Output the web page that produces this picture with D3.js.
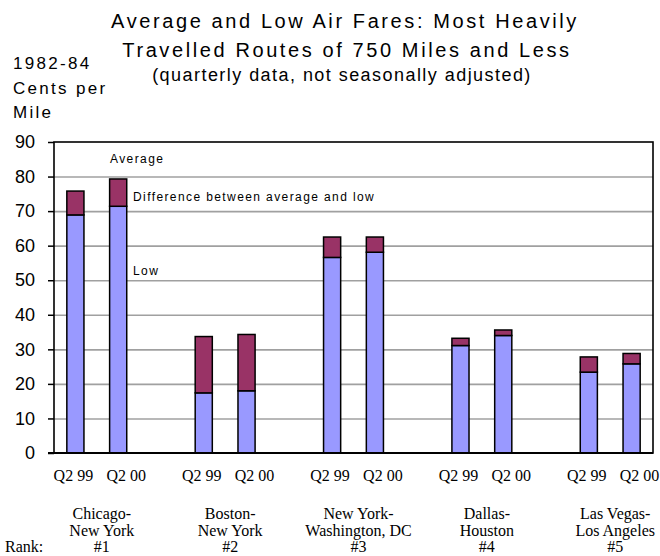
<!DOCTYPE html>
<html>
<head>
<meta charset="utf-8">
<script src="https://cdn.jsdelivr.net/npm/d3@7"></script>
<style>
  body { margin: 0; background: #fff; }
  svg { display: block; }
</style>
</head>
<body>
<script>
// ---- data ----
const routeLine1 = ["Chicago-", "Boston-", "New York-", "Dallas-", "Las Vegas-"];
const routeLine2 = ["New York", "New York", "Washington, DC", "Houston", "Los Angeles"];
const ranks = ["#1", "#2", "#3", "#4", "#5"];
const quarters = ["Q2 99", "Q2 00"];
const lowQ299 = [68.9, 17.4, 56.6, 31.1, 23.4];
const lowQ200 = [71.4, 18.0, 58.1, 34.0, 25.8];
const avgQ299 = [75.8, 33.7, 62.5, 33.2, 27.8];
const avgQ200 = [79.3, 34.3, 62.5, 35.6, 28.8];
const yTicks = [0, 10, 20, 30, 40, 50, 60, 70, 80, 90];
const titleLines = ["Average and Low Air Fares: Most Heavily", "Travelled Routes of 750 Miles and Less"];
const subtitle = "(quarterly data, not seasonally adjusted)";
const yTitle = ["1982-84", "Cents per", "Mile"];
const annotations = ["Average", "Difference between average and low", "Low"];

// ---- build rows ----
const lows = [lowQ299, lowQ200];
const avgs = [avgQ299, avgQ200];
const slots = [];
const rows = [];
routeLine1.forEach((r, i) => {
  quarters.forEach((q, j) => {
    const key = "r" + i + "-" + q;
    slots.push(key);
    rows.push({ key, route: i, q: j, quarter: q, low: lows[j][i], avg: avgs[j][i] });
  });
  if (i < routeLine1.length - 1) slots.push("gap" + i);
});

const W = 660, H = 556;
const pL = 54, pR = 653, pT = 142, pB = 453;
const sans = "'Liberation Sans', Arial, sans-serif";
const serif = "'Liberation Serif', 'Times New Roman', serif";

const svg = d3.select("body").append("svg").attr("width", W).attr("height", H);

const x = d3.scaleBand().domain(slots).range([pL, pR]).paddingInner(0.6).paddingOuter(0.3);
const y = d3.scaleLinear().domain([0, 90]).range([pB, pT]);

// gridlines
svg.append("g")
  .attr("transform", `translate(${pL},0)`)
  .call(d3.axisLeft(y).tickValues(yTicks.filter(v => v > 0 && v < 90)).tickSize(-(pR - pL)).tickFormat(""))
  .call(g => g.select(".domain").remove())
  .call(g => g.selectAll("line").attr("stroke", "#a0a0a0").attr("stroke-width", 1.6));

// y axis ticks + labels
svg.append("g")
  .attr("transform", `translate(${pL},0)`)
  .call(d3.axisLeft(y).tickValues(yTicks).tickSize(6).tickPadding(13).tickFormat(d3.format("d")))
  .call(g => g.select(".domain").remove())
  .call(g => g.selectAll("line").attr("stroke", "#000").attr("stroke-width", 1.5))
  .call(g => g.selectAll("text").attr("font-family", sans).attr("font-size", 18).attr("fill", "#000"));

// bars
const bars = svg.append("g");
bars.selectAll("rect.low").data(rows).join("rect")
  .attr("class", "low")
  .attr("x", d => x(d.key)).attr("width", x.bandwidth())
  .attr("y", d => y(d.low)).attr("height", d => y(0) - y(d.low))
  .attr("fill", "#9999ff").attr("stroke", "#000").attr("stroke-width", 1.5);
bars.selectAll("rect.diff").data(rows).join("rect")
  .attr("class", "diff")
  .attr("x", d => x(d.key)).attr("width", x.bandwidth())
  .attr("y", d => y(d.avg)).attr("height", d => y(d.low) - y(d.avg))
  .attr("fill", "#993366").attr("stroke", "#000").attr("stroke-width", 1.5);

// frame
svg.append("rect").attr("x", pL).attr("y", pT).attr("width", pR - pL).attr("height", pB - pT)
  .attr("fill", "none").attr("stroke", "#000").attr("stroke-width", 1.6);
svg.append("line").attr("x1", pL - 6).attr("x2", pR).attr("y1", y(0)).attr("y2", y(0))
  .attr("stroke", "#000").attr("stroke-width", 2);

// quarter labels
const qOffset = [-2, 8];
svg.append("g").selectAll("text").data(rows).join("text")
  .attr("x", d => x(d.key) + x.bandwidth() / 2 + qOffset[d.q])
  .attr("y", 481)
  .attr("text-anchor", "middle")
  .attr("font-family", serif).attr("font-size", 16)
  .text(d => d.quarter);

// route labels
const groupCenter = i => (x("r" + i + "-" + quarters[0]) + x("r" + i + "-" + quarters[1]) + x.bandwidth()) / 2 + 5;
const rl = svg.append("g").attr("font-family", serif).attr("font-size", 16).attr("text-anchor", "middle");
routeLine1.forEach((t, i) => {
  rl.append("text").attr("x", groupCenter(i)).attr("y", 519).text(t);
  rl.append("text").attr("x", groupCenter(i)).attr("y", 535.5).text(routeLine2[i]);
  rl.append("text").attr("x", groupCenter(i)).attr("y", 552).text(ranks[i]);
});
svg.append("text").attr("x", 5).attr("y", 552).attr("font-family", serif).attr("font-size", 16).text("Rank:");

// title
const tg = svg.append("g").attr("font-family", sans).attr("text-anchor", "middle").attr("fill", "#000");
tg.append("text").attr("x", 345).attr("y", 28).attr("font-size", 20).attr("letter-spacing", 2.6).text(titleLines[0]);
tg.append("text").attr("x", 347).attr("y", 57).attr("font-size", 20).attr("letter-spacing", 2.6).text(titleLines[1]);
tg.append("text").attr("x", 342).attr("y", 81).attr("font-size", 18).attr("letter-spacing", 1.45).text(subtitle);

// y title
const yt = svg.append("g").attr("font-family", sans).attr("font-size", 17).attr("letter-spacing", 2.3);
yTitle.forEach((t, i) => yt.append("text").attr("x", 13).attr("y", 69 + i * 24.5).text(t));

// annotations
const an = svg.append("g").attr("font-family", sans).attr("font-size", 12).attr("letter-spacing", 1.4);
an.append("text").attr("x", 110).attr("y", 163).text(annotations[0]);
an.append("text").attr("x", 133).attr("y", 201).text(annotations[1]);
an.append("text").attr("x", 133).attr("y", 275).text(annotations[2]);
</script>
</body>
</html>
